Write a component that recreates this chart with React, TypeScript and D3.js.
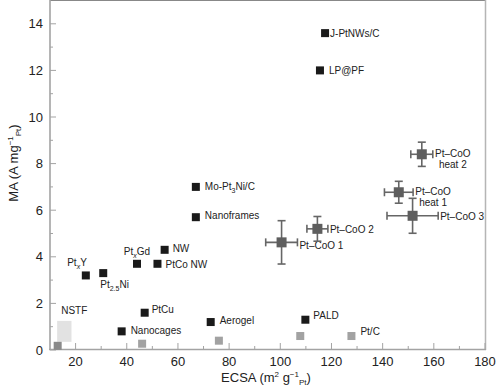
import React from 'react';
import * as d3 from 'd3';

// black: published catalysts
const blackNames = ['J-PtNWs/C', 'LP@PF', 'Mo-Pt3Ni/C', 'Nanoframes', 'NW', 'PtxGd', 'PtCo NW', 'PtxY', 'Pt2.5Ni', 'PtCu', 'Nanocages', 'Aerogel', 'PALD'];
const blackEcsa = [117.5, 115.5, 67, 67, 54.8, 44, 52, 24, 30.8, 47, 38, 72.8, 109.8];
const blackMa = [13.6, 12.0, 7.0, 5.7, 4.3, 3.7, 3.7, 3.2, 3.3, 1.6, 0.8, 1.2, 1.3];

// gray: Pt/C references
const grayEcsa = [13, 46, 76, 107.8, 127.8];
const grayMa = [0.18, 0.27, 0.4, 0.6, 0.6];

// NSTF range box
const nstfEcsa = [12.8, 18.4];
const nstfMa = [0.35, 1.25];

// Pt-CoO with error bars
const coNames = ['Pt–CoO 1', 'Pt–CoO 2', 'Pt–CoO 3', 'Pt–CoO heat 1', 'Pt–CoO heat 2'];
const coEcsa = [100.5, 114.5, 151.7, 146.3, 155.3];
const coMa = [4.62, 5.2, 5.76, 6.77, 8.4];
const coEcsaErr = [6.2, 4.1, 10, 5.6, 4.3];
const coMaErr = [0.93, 0.53, 0.75, 0.47, 0.52];

const xTicks = [20, 40, 60, 80, 100, 120, 140, 160, 180];
const xMinor = [30, 50, 70, 90, 110, 130, 150, 170];
const yTicks = [0, 2, 4, 6, 8, 10, 12, 14];
const yMinor = [1, 3, 5, 7, 9, 11, 13];

const font = '"Liberation Sans", Arial, Helvetica, sans-serif';

// label placement: dx, dy from point centre, anchor
const labelPos: Record<string, [number, number, string]> = {
  'J-PtNWs/C': [5, 4, 'start'],
  'LP@PF': [9, 4, 'start'],
  'Mo-Pt3Ni/C': [9, 3, 'start'],
  'Nanoframes': [9, 2, 'start'],
  'NW': [8, 2, 'start'],
  'PtxGd': [0, -9, 'middle'],
  'PtCo NW': [8, 4, 'start'],
  'PtxY': [1, -9, 'end'],
  'Pt2.5Ni': [-3, 15, 'start'],
  'PtCu': [7, 0, 'start'],
  'Nanocages': [9, 3, 'start'],
  'Aerogel': [9, 2, 'start'],
  'PALD': [8, -1, 'start'],
};

function richLabel(name: string) {
  if (name === 'Mo-Pt3Ni/C') return <>Mo-Pt<tspan dy={3} fontSize={7}>3</tspan><tspan dy={-3}>Ni/C</tspan></>;
  if (name === 'PtxGd') return <>Pt<tspan dy={3} fontSize={7} fontStyle="italic">x</tspan><tspan dy={-3}>Gd</tspan></>;
  if (name === 'PtxY') return <>Pt<tspan dy={3} fontSize={7} fontStyle="italic">x</tspan><tspan dy={-3}>Y</tspan></>;
  if (name === 'Pt2.5Ni') return <>Pt<tspan dy={3} fontSize={7}>2.5</tspan><tspan dy={-3}>Ni</tspan></>;
  return name;
}

export default function App() {
  const W = 496, H = 391;
  const x = d3.scaleLinear().domain([10, 180]).range([50, 485]);
  const y = d3.scaleLinear().domain([0, 15]).range([350, 0.5]);
  const axisColor = '#a3a3a3';
  const errColor = '#666666';
  const sq = 8;

  return (
    <svg width={W} height={H} style={{ position: 'absolute', left: 0, top: 0 }} fontFamily={font}>
      <rect width={W} height={H} fill="#fff" />

      {/* NSTF box */}
      <rect x={x(nstfEcsa[0])} y={y(nstfMa[1])} width={x(nstfEcsa[1]) - x(nstfEcsa[0])}
        height={y(nstfMa[0]) - y(nstfMa[1])} fill="#e2e2e2" />
      <text x={x(nstfEcsa[0]) + 4} y={y(nstfMa[1]) - 7} fontSize={10} fill="#222">NSTF</text>

      {/* frame */}
      <line x1={50} x2={486} y1={0.5} y2={0.5} stroke="#888" strokeWidth={1.2} />
      <line x1={485.5} x2={485.5} y1={0} y2={350} stroke="#b5b5b5" strokeWidth={1.5} />
      <line x1={50} x2={50} y1={0} y2={350} stroke={axisColor} strokeWidth={1.6} />
      <line x1={49} x2={486} y1={349.5} y2={349.5} stroke={axisColor} strokeWidth={1.6} />

      {/* ticks */}
      {yTicks.map(t => (
        <g key={'y' + t}>
          <line x1={50} x2={56} y1={y(t)} y2={y(t)} stroke={axisColor} strokeWidth={1} />
          <text x={43} y={y(t) + 4.5} textAnchor="end" fontSize={13} fill="#222">{t}</text>
        </g>
      ))}
      {yMinor.map(t => (
        <line key={'ym' + t} x1={50} x2={53} y1={y(t)} y2={y(t)} stroke={axisColor} strokeWidth={1} />
      ))}
      {xTicks.map(t => (
        <g key={'x' + t}>
          <line x1={x(t)} x2={x(t)} y1={349.5} y2={343} stroke={axisColor} strokeWidth={1} />
          <text x={x(t)} y={366} textAnchor="middle" fontSize={13} fill="#222">{t}</text>
        </g>
      ))}
      {xMinor.map(t => (
        <line key={'xm' + t} x1={x(t)} x2={x(t)} y1={349.5} y2={346} stroke={axisColor} strokeWidth={1} />
      ))}

      {/* axis titles */}
      <text x={266} y={382} textAnchor="middle" fontSize={13} fill="#222">
        ECSA (m<tspan dy={-5} fontSize={8}>2</tspan><tspan dy={5}> g</tspan>
        <tspan dy={-5} fontSize={8}>−1</tspan><tspan dy={8} fontSize={8}>Pt</tspan><tspan dy={-3}>)</tspan>
      </text>
      <text transform="translate(18,163) rotate(-90)" textAnchor="middle" fontSize={13} fill="#222">
        MA (A mg<tspan dy={-5} fontSize={8}>−1</tspan><tspan dy={8} fontSize={8}>Pt</tspan><tspan dy={-3}>)</tspan>
      </text>

      {/* gray reference points */}
      {grayEcsa.map((v, i) => (
        <rect key={'g' + i} x={x(v) - sq / 2} y={y(grayMa[i]) - sq / 2} width={sq} height={sq}
          fill={i === 0 ? '#8a8a8a' : '#a2a2a2'} />
      ))}
      <text x={x(grayEcsa[4]) + 9} y={y(grayMa[4]) - 1} fontSize={10} fill="#222">Pt/C</text>

      {/* black points */}
      {blackNames.map((n, i) => {
        const [dx, dy, anchor] = labelPos[n];
        const cx = x(blackEcsa[i]), cy = y(blackMa[i]);
        return (
          <g key={n}>
            <rect x={cx - sq / 2} y={cy - sq / 2} width={sq} height={sq} fill="#1a1a1a" />
            <text x={cx + dx} y={cy + dy} textAnchor={anchor} fontSize={10} fill="#222">{richLabel(n)}</text>
          </g>
        );
      })}

      {/* Pt-CoO with error bars */}
      {coNames.map((n, i) => {
        const cx = x(coEcsa[i]), cy = y(coMa[i]);
        const x0 = x(coEcsa[i] - coEcsaErr[i]), x1 = x(coEcsa[i] + coEcsaErr[i]);
        const y0 = y(coMa[i] + coMaErr[i]), y1 = y(coMa[i] - coMaErr[i]);
        const c = 4;
        const heat = n.includes('heat');
        const words = n.split(' ');
        return (
          <g key={n} stroke={errColor} strokeWidth={1.6}>
            <line x1={x0} x2={x1} y1={cy} y2={cy} />
            <line x1={cx} x2={cx} y1={y0} y2={y1} />
            <line x1={x0} x2={x0} y1={cy - c} y2={cy + c} />
            <line x1={x1} x2={x1} y1={cy - c} y2={cy + c} />
            <line x1={cx - c} x2={cx + c} y1={y0} y2={y0} />
            <line x1={cx - c} x2={cx + c} y1={y1} y2={y1} />
            <rect x={cx - 5} y={cy - 5} width={10} height={10} fill="#5e5e5e" stroke="none" />
            {heat ? (
              <text x={x1 + 20} y={cy + 3} textAnchor="middle" fontSize={10} fill="#222" stroke="none">
                <tspan x={x1 + 20}>{words[0]}</tspan>
                <tspan x={x1 + 20} dy={10.5}>{words.slice(1).join(' ')}</tspan>
              </text>
            ) : (
              <text x={x1 + 2} y={cy + (i === 0 ? 7 : 4)} fontSize={10} fill="#222" stroke="none">{n}</text>
            )}
          </g>
        );
      })}
    </svg>
  );
}
